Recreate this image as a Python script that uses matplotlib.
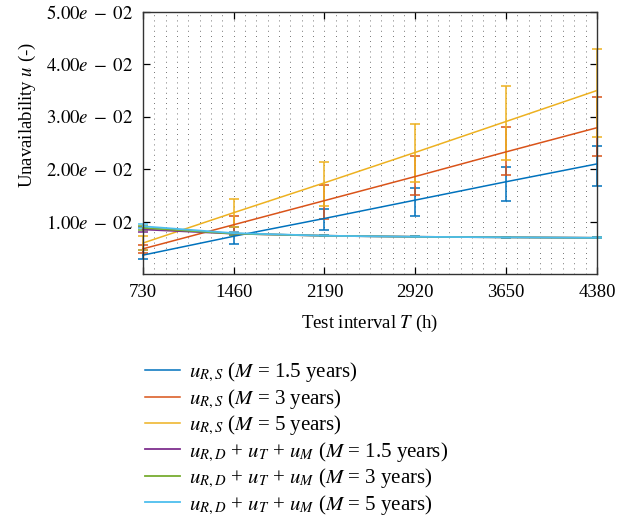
import numpy as np
import matplotlib
matplotlib.use("Agg")
import matplotlib.pyplot as plt
from matplotlib.ticker import FixedLocator, MultipleLocator

plt.rcParams['font.family'] = ['Liberation Serif', 'DejaVu Serif']
plt.rcParams['mathtext.fontset'] = 'stix'

# ---- data ----
T = [730, 1460, 2190, 2920, 3650, 4380]

u_rs_15 = [0.0036, 0.0072, 0.0106, 0.0141, 0.0176, 0.0210]
u_rs_15_lo = [0.0028, 0.0057, 0.0084, 0.0111, 0.0140, 0.0167]
u_rs_15_hi = [0.0045, 0.0089, 0.0124, 0.0164, 0.0205, 0.0245]

u_rs_3 = [0.0048, 0.0094, 0.0140, 0.0186, 0.0233, 0.0279]
u_rs_3_lo = [0.0040, 0.0080, 0.0105, 0.0150, 0.0188, 0.0226]
u_rs_3_hi = [0.0056, 0.0110, 0.0170, 0.0226, 0.0281, 0.0338]

u_rs_5 = [0.0059, 0.0117, 0.0174, 0.0232, 0.0291, 0.0350]
u_rs_5_lo = [0.0045, 0.0090, 0.0129, 0.0175, 0.0217, 0.0261]
u_rs_5_hi = [0.0072, 0.0143, 0.0214, 0.0287, 0.0358, 0.0430]

u_rd_15 = [0.0085, 0.0077, 0.0073, 0.0071, 0.0070, 0.0069]
u_rd_3 = [0.0088, 0.0077, 0.0073, 0.0071, 0.0070, 0.0069]
u_rd_5 = [0.0091, 0.0078, 0.0073, 0.0071, 0.0070, 0.0069]
u_rd_err = [0.0004, 0.0002, 0.0001, 0.0001, 0.0001, 0.0001]

labels = [
    r'$u_{R,S}$ ($M$ = 1.5 years)',
    r'$u_{R,S}$ ($M$ = 3 years)',
    r'$u_{R,S}$ ($M$ = 5 years)',
    r'$u_{R,D}$ + $u_T$ + $u_M$ ($M$ = 1.5 years)',
    r'$u_{R,D}$ + $u_T$ + $u_M$ ($M$ = 3 years)',
    r'$u_{R,D}$ + $u_T$ + $u_M$ ($M$ = 5 years)',
]
colors = ['#0072BD', '#D95319', '#EDB120', '#7E2F8E', '#77AC30', '#4DBEEE']
yticks = [0.01, 0.02, 0.03, 0.04, 0.05]
ytick_labels = [r'$1.00e\;-\;02$', r'$2.00e\;-\;02$', r'$3.00e\;-\;02$',
                r'$4.00e\;-\;02$', r'$5.00e\;-\;02$']

fig = plt.figure(figsize=(6.35, 5.17), dpi=100)
ax = fig.add_axes([0.225, 0.470, 0.715, 0.507])

series = [
    (u_rs_15, u_rs_15_lo, u_rs_15_hi),
    (u_rs_3, u_rs_3_lo, u_rs_3_hi),
    (u_rs_5, u_rs_5_lo, u_rs_5_hi),
]
handles = []
for (y, lo, hi), c, lab in zip(series, colors[:3], labels[:3]):
    y = np.array(y)
    yerr = [y - np.array(lo), np.array(hi) - y]
    eb = ax.errorbar(T, y, yerr=yerr, color=c, lw=1.1, elinewidth=1.1,
                     capsize=3.5, capthick=1.1, label=lab, clip_on=False)
    handles.append(eb.lines[0])

for y, c, lab in zip([u_rd_15, u_rd_3, u_rd_5], colors[3:], labels[3:]):
    eb = ax.errorbar(T, y, yerr=u_rd_err, color=c, lw=1.3, elinewidth=1.1,
                     capsize=3.5, capthick=1.1, label=lab, clip_on=False)
    handles.append(eb.lines[0])

ax.set_xlim(730, 4380)
ax.set_ylim(0, 0.05)
ax.set_xticks(T)
ax.set_xticklabels([str(t) for t in T])
ax.yaxis.set_major_locator(FixedLocator(yticks))
ax.set_yticklabels(ytick_labels)
ax.xaxis.set_minor_locator(MultipleLocator(730 / 8))

# dotted minor grid (vertical dotted lines give the dot lattice)
ax.grid(which='both', axis='x', color='#444444', lw=0.6, linestyle=(0, (1, 5.2)))
ax.set_axisbelow(True)

ax.tick_params(which='major', direction='in', top=True, right=True,
               length=5, width=0.9, labelsize=13.5, pad=7)
ax.tick_params(which='minor', length=0)
for s in ax.spines.values():
    s.set_linewidth(1.0)
    s.set_color('#333333')

ax.set_xlabel(r'Test interval $T$ (h)', fontsize=13.5, labelpad=9)
ax.set_ylabel(r'Unavailability $u$ (-)', fontsize=13.5)
ax.yaxis.set_label_coords(-0.232, 0.607)

fig.legend(handles, labels, loc='upper left', bbox_to_anchor=(0.215, 0.318),
           frameon=False, fontsize=15, handlelength=1.7, handletextpad=0.4,
           labelspacing=0.14, borderaxespad=0)

fig.savefig('out.png', dpi=100)
